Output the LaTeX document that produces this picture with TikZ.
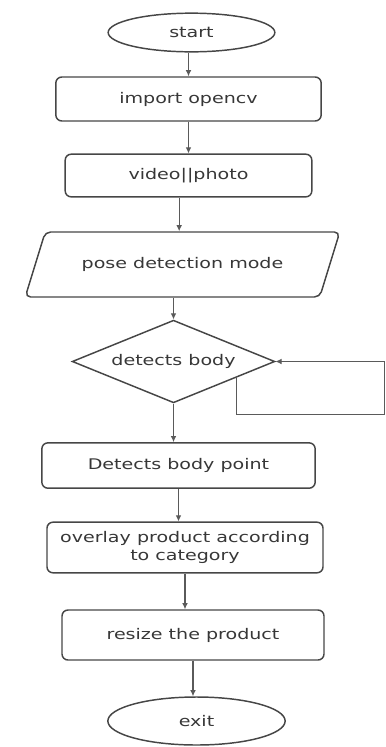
\documentclass[tikz,border=0pt]{standalone}
\usepackage{fontspec}
\setmainfont{DejaVu Sans}[FakeStretch=1.3]
\usetikzlibrary{arrows.meta,positioning,shapes.geometric,calc}
\definecolor{linegray}{RGB}{90,90,90}
\definecolor{boxgray}{RGB}{70,70,70}
\definecolor{textgray}{RGB}{55,55,55}

\begin{document}
\begin{tikzpicture}[x=0.75pt,y=-0.75pt,font=\fontsize{11}{13.5}\selectfont,text=textgray,
  box/.style={draw=boxgray, line width=1.1pt, rounded corners=4.5pt, align=center, inner sep=0pt},
  term/.style={draw=boxgray, line width=1.1pt, ellipse, inner sep=0pt},
  flow/.style={-{Latex[length=1.6mm,width=1.5mm]}, draw=linegray, line width=0.8pt}]
\useasboundingbox (0,0) rectangle (386,747);
\node[term, minimum width=125pt, minimum height=29pt] (start) at (191.5,32.5) {start};
\node[box, minimum width=199pt, minimum height=33pt] (import) at (188.5,99) {import opencv};
\node[box, minimum width=185pt, minimum height=32pt] (video) at (188.5,175.5) {video||photo};
\node[draw=boxgray, line width=1.1pt, trapezium, trapezium left angle=44, trapezium right angle=136,
  trapezium stretches=true, rounded corners=4pt, inner sep=0pt,
  minimum width=236pt, minimum height=48.75pt] (pose) at (182.5,264.5) {pose detection mode};
\node[draw=boxgray, line width=1.1pt, diamond, aspect=2.4, inner sep=0pt,
  minimum width=152pt, minimum height=62pt] (body) at (173.5,361.5) {detects body};
\node[box, minimum width=205pt, minimum height=34pt] (detect) at (178.5,465.5) {Detects body point};
\node[box, minimum width=207pt, minimum height=38pt] (overlay) at (185,547.5) {overlay product according\\to category};
\node[box, minimum width=196.5pt, minimum height=37.5pt] (resize) at (193,635) {resize the product};
\node[term, minimum width=133pt, minimum height=36pt] (exit) at (196.5,721) {exit};

% main flow
\draw[flow] (import.north |- start.south) -- (import.north);
\draw[flow] (import.south) -- (import.south |- video.north);
\draw[flow] ([xshift=-7pt]video.south) -- ([xshift=-7pt]video.south |- pose.north);
\draw[flow] (body.north |- pose.south) -- (body.north);
\draw[flow] (body.south) -- (body.south |- detect.north);
\draw[flow] (detect.south) -- (detect.south |- overlay.north);
\draw[flow] (overlay.south) -- (overlay.south |- resize.north);
\draw[flow] (resize.south) -- (resize.south |- exit.north);

% loop back to the decision
\coordinate (loopin) at ($(body.east)!0.38!(body.south)$);
\coordinate (loopturn) at (384,414);
\draw[flow, line width=0.6pt] (loopin) -- (loopin |- loopturn) -- (loopturn) -- (loopturn |- body.east) -- (body.east);
\end{tikzpicture}
\end{document}
